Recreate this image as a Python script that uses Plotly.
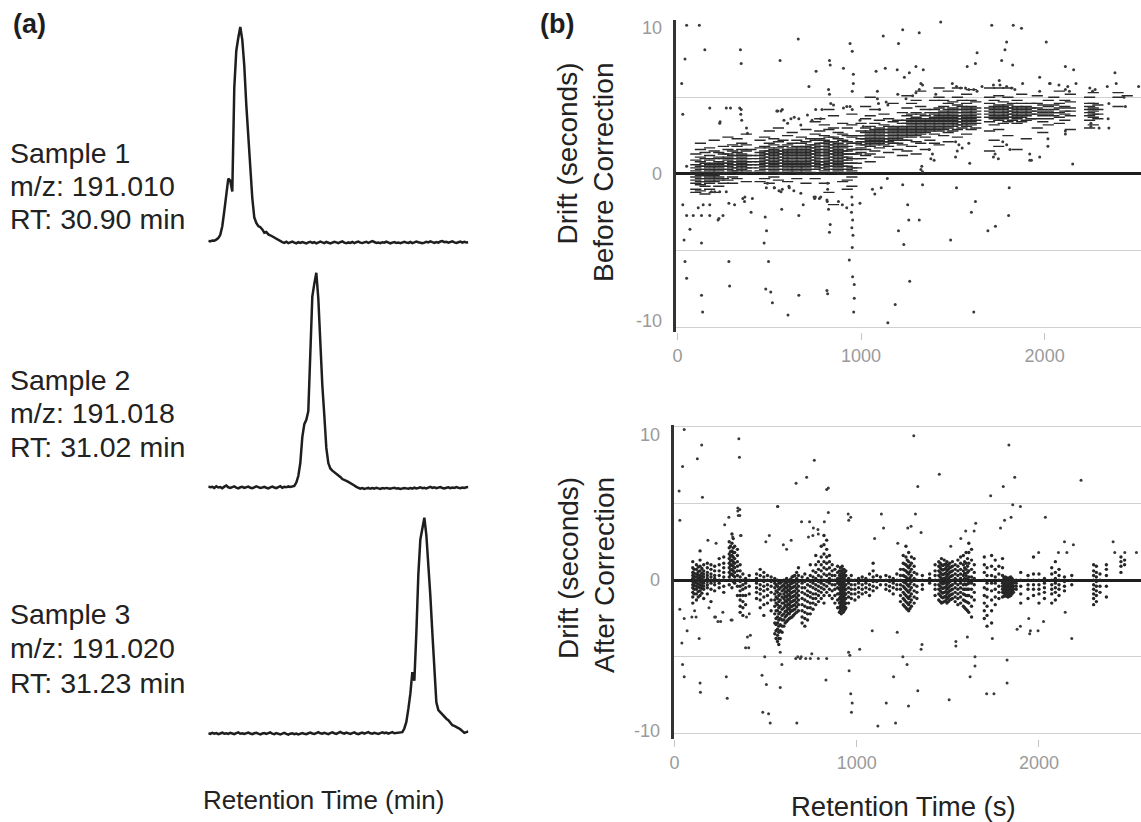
import plotly.graph_objects as go

# ---------------- Panel (a): chromatograms (relative intensity, % of peak) -------------
sample1_intensity = [1.2,1.0,1.4,1.3,1.8,2.5,4,8,15,24,30,29,24,72,89,95,100,94,82,64,49,35,21,12,9.5,8,7.5,6.5,5,5.3,4.2,3.8,3.2,2.6,2,1.5,1.1,
    0.6,0.3,0.8,0.2,0.5,0.9,0.4,0.1,0.6,0.3, 0.7,0.2,0.0,0.5,0.8,0.3,0.6,0.1,0.4,0.9,
    0.5,0.2,0.7,0.3,0.0,0.4,0.8,0.5,0.2,0.6, 1.0,0.4,0.1,0.5,0.3,0.7,0.2,0.6,0.9,0.4,
    0.2,0.5,0.8,0.3,0.6,1.1,0.7,0.3,0.5,0.2, 0.6,0.4,0.9,0.5,0.1,0.4,0.7,0.3,0.5,0.2,
    0.6,0.8,0.4,0.3,0.7,0.2,0.5,0.9,0.6,0.3, 0.1,0.4,0.8,0.5,1.0,0.6,0.3,0.7,0.4,0.9,
    1.1,0.6,0.8,0.4,0.7,1.0,0.5,0.3,0.6,0.9, 0.4,0.8,0.5,0.6]
sample2_intensity = [1.2,0.8,1.0,0.5,1.3,0.7,0.9,0.4,1.1,1.6, 0.8,0.5,0.9,1.2,0.6,0.3,0.8,1.0,0.5,0.7,
    1.1,0.6,0.4,0.8,1.2,0.9,0.5,0.7,1.0,0.6, 0.3,0.8,1.1,0.7,0.4,0.9,1.3,0.6,1.0,0.8, 1.2,1.0,1.1,
    1.4,3,6,12,24,30,32,36,64,89,95,100,88,66,48,34,19,12,9.5,8.5,7.8,7.3,6.5,5.6,4.6,4,3.8,3.3,2.6,2,1.6,1.0,
    0.6,0.2,0.4,0.0,0.3,0.5,0.1,0.4,0.2,0.6, 0.3,0.0,0.4,0.2,0.5,0.3,0.1,0.4,0.6,0.2,
    0.3,0.0,0.2,0.5,0.3,0.1,0.4,0.2,0.6,0.3, 0.5,0.8,0.4,0.6,0.3,0.7,1.0,0.5,0.8,0.4,
    0.7,0.9,0.5,0.3,0.6,0.8,0.4,0.7,0.5,0.9, 0.6,0.4,0.7,0.5,0.8,0.9]
sample3_intensity = [0.8,0.5,1.0,0.6,0.9,0.4,0.7,1.1,0.6,0.8, 0.5,1.0,0.7,0.4,0.9,1.2,0.6,0.8,0.5,0.9,
    1.1,0.7,0.4,0.8,1.0,0.6,0.3,0.7,0.9,0.5, 0.8,1.2,0.6,0.4,0.9,0.7,0.3,0.6,1.0,0.5,
    0.2,0.6,0.8,0.4,0.7,0.3,0.5,0.9,0.6,0.4, 0.8,1.1,0.7,0.5,0.9,1.3,0.8,0.6,1.0,0.7,
    0.4,0.9,1.2,0.8,0.5,1.0,1.4,0.9,0.6,1.1, 0.8,0.5,0.9,1.2,0.7,0.4,0.8,1.1,0.6,0.9,
    1.3,0.8,0.6,1.0,0.7,0.5,0.9,1.2,0.8,1.1, 0.6,0.9,1.3,0.8,1.0,1.2,1.1,
    1.3,3,6,12,19,29,25,47,74,90,95,100,92,79,64,47,29,15,11.5,10.5,9,8,7.5,6.8,5.5,4.5,4.2,3.8,3.2,2.6,2,1.0,1.3,1.6]

sample_lines = [
    ["Sample 1", "m/z: 191.010", "RT: 30.90 min"],
    ["Sample 2", "m/z: 191.018", "RT: 31.02 min"],
    ["Sample 3", "m/z: 191.020", "RT: 31.23 min"],
]

# ---------------- Panel (b): drift before correction (columns of points) -------------
before_col_x = [100,125,150,175,200,225,250,275,300,325,350,375,400,
    450,475,500,525,550,575,600,625,650,675,700,725,
    750,775,800,825,850,875,900,925,950,975,
    1000,1025,1050,1075,1100,1125,1150,1175,1200,1225,
    1250,1275,1300,1325,1350,1375,
    1400,1425,1450,1475,1500,1525,1550,1575,1600,1625,
    1700,1725,1750,1775,1800,1825,1850,1875,1900,1925,
    1960,1990,2020,2050,2080,2110,2140,2245,2265,2290,2400,2450]
before_col_y = [
    [-1.2,-1.0,-0.6,-0.4,-0.2,0.0,0.2,0.4,0.6,0.9,1.3],
    [-1.1,-0.7,-0.5,-0.3,-0.1,0.1,0.3,0.5,0.8,1.1,1.6,2.0],
    [-1.3,-0.8,-0.5,-0.3,-0.1,0.1,0.3,0.5,0.7,1.0,1.4],
    [-1.0,-0.6,-0.4,-0.2,0.0,0.2,0.4,0.6,0.9,1.2,1.7],
    [-1.2,-0.5,-0.3,-0.1,0.1,0.3,0.5,0.7,1.0,1.5,2.2],
    [-0.8,-0.4,-0.2,0.0,0.2,0.4,0.6,0.8,1.1,1.4],
    [-0.6,-0.3,0.0,0.3,0.5,0.7,1.0,1.3,1.8],
    [-0.4,0.1,0.3,0.5,0.7,0.9,1.1,1.3,1.6,2.4],
    [-0.6,-0.2,0.2,0.4,0.6,0.8,1.0,1.2,1.5,1.9],
    [-0.3,0.2,0.4,0.6,0.8,1.0,1.2,1.4,1.8,2.3],
    [0.0,0.3,0.5,0.7,0.9,1.1,1.3,1.6,2.0],
    [-0.5,0.2,0.4,0.6,0.8,1.0,1.2,1.5,1.9,2.6],
    [0.1,0.4,0.6,0.8,1.0,1.2,1.6],
    [-0.5,0.2,0.4,0.6,0.8,1.0,1.2,1.4,1.7,2.2],
    [-0.3,0.0,0.3,0.5,0.7,0.9,1.1,1.3,1.5,1.8,2.4],
    [-0.6,0.1,0.3,0.5,0.7,0.9,1.1,1.3,1.5,1.7,2.0,2.8],
    [-0.2,0.2,0.4,0.6,0.8,1.0,1.2,1.4,1.6,1.9,2.3],
    [-0.4,0.1,0.3,0.5,0.7,0.9,1.1,1.3,1.5,1.7,2.1,3.0],
    [0.0,0.3,0.5,0.7,0.9,1.1,1.3,1.5,1.8,2.2],
    [-0.5,0.2,0.4,0.6,0.8,1.0,1.2,1.4,1.6,1.9,2.5],
    [0.1,0.3,0.5,0.7,0.9,1.1,1.3,1.5,1.7,2.0,2.7],
    [-0.3,0.2,0.4,0.6,0.8,1.0,1.2,1.4,1.6,1.8,2.2],
    [0.0,0.3,0.5,0.7,0.9,1.1,1.3,1.5,1.7,2.0,2.4],
    [-0.6,0.2,0.4,0.6,0.8,1.0,1.2,1.4,1.6,1.8,2.1,2.9],
    [0.1,0.3,0.5,0.7,0.9,1.1,1.3,1.5,1.7,1.9,2.3],
    [-0.3,0.3,0.5,0.7,0.9,1.1,1.3,1.5,1.7,1.9,2.2,2.6,3.4],
    [0.0,0.4,0.6,0.8,1.0,1.2,1.4,1.6,1.8,2.0,2.3,2.8,3.6],
    [-0.6,0.2,0.4,0.6,0.8,1.0,1.2,1.4,1.6,1.8,2.0,2.2,2.5,3.2],
    [-1.2,0.3,0.5,0.7,0.9,1.1,1.3,1.5,1.7,1.9,2.1,2.4,2.9,4.2],
    [-2.0,0.1,0.3,0.5,0.7,0.9,1.1,1.3,1.5,1.7,1.9,2.1,2.4,3.0,3.8],
    [0.2,0.4,0.6,0.8,1.0,1.2,1.4,1.6,1.8,2.0,2.3,2.7],
    [-0.5,0.0,0.3,0.5,0.7,0.9,1.1,1.3,1.5,1.7,1.9,2.2,2.6,3.3],
    [-1.0,-0.4,0.1,0.3,0.5,0.7,0.9,1.1,1.3,1.5,1.8,2.1,2.5,3.0],
    [-0.8,-0.2,0.0,0.2,0.4,0.7,1.0,1.3,1.6,2.0,2.4,3.2,3.9],
    [0.4,0.7,1.0,1.3,1.6,2.0,2.5],
    [1.0,1.4,1.7,1.9,2.1,2.3,2.5,2.8,3.3],
    [1.2,1.6,1.9,2.1,2.3,2.5,2.7,3.0,3.6,4.4],
    [0.8,1.3,1.8,2.0,2.2,2.4,2.6,2.8,3.1,3.8,5.0],
    [1.5,1.9,2.1,2.3,2.5,2.7,2.9,3.3,4.2],
    [1.1,1.7,2.0,2.2,2.4,2.6,2.8,3.0,3.5],
    [1.9,2.1,2.3,2.5,2.7,2.9,3.2,3.9],
    [1.4,1.8,2.1,2.3,2.5,2.7,2.9,3.1,3.6],
    [2.0,2.2,2.4,2.6,2.8,3.0,3.4,4.6],
    [1.6,2.0,2.3,2.5,2.7,2.9,3.1,3.5],
    [1.2,1.9,2.2,2.4,2.6,2.8,3.0,3.3,4.0],
    [1.5,2.2,2.5,2.7,2.9,3.1,3.3,3.5,3.8,4.3,5.1],
    [1.8,2.4,2.6,2.8,3.0,3.2,3.4,3.6,3.9,4.6],
    [1.3,2.1,2.5,2.7,2.9,3.1,3.3,3.5,3.7,4.0,4.8],
    [2.0,2.6,2.8,3.0,3.2,3.4,3.6,3.9,4.4,5.4],
    [1.6,2.4,2.7,2.9,3.1,3.3,3.5,3.8,4.2],
    [2.2,2.8,3.0,3.2,3.4,3.6,4.0],
    [2.0,2.6,2.9,3.1,3.3,3.5,3.7,3.9,4.2,4.8],
    [1.9,2.8,3.0,3.2,3.4,3.6,3.8,4.0,4.3,5.0,5.6],
    [2.5,2.9,3.1,3.3,3.5,3.7,3.9,4.1,4.4,4.8],
    [2.1,2.7,3.0,3.2,3.4,3.6,3.8,4.0,4.2,4.6,5.4],
    [2.8,3.1,3.3,3.5,3.7,3.9,4.1,4.3,4.7],
    [2.4,2.9,3.2,3.4,3.6,3.8,4.0,4.2,4.5,5.0,5.6],
    [3.0,3.2,3.4,3.6,3.8,4.0,4.2,4.4,4.8],
    [2.6,3.1,3.3,3.5,3.7,3.9,4.1,4.3,4.6,5.2],
    [2.9,3.2,3.4,3.6,3.8,4.0,4.2,4.4,4.8,5.5],
    [3.0,3.3,3.5,3.7,3.9,4.1,4.3,4.7],
    [1.5,2.8,3.4,3.7,3.9,4.1,4.3,4.6,5.0,5.6],
    [2.2,3.2,3.6,3.8,4.0,4.2,4.4,4.8],
    [1.8,2.9,3.5,3.7,3.9,4.1,4.3,4.5,5.1,5.6],
    [3.3,3.6,3.8,4.0,4.2,4.4,4.7],
    [2.5,3.4,3.7,3.9,4.1,4.3,4.5,5.0,5.6],
    [3.5,3.7,3.9,4.1,4.3,4.6],
    [1.6,3.3,3.6,3.8,4.0,4.2,4.4,4.8],
    [3.4,3.7,3.9,4.1,4.3,4.6,5.2],
    [2.3,3.5,3.8,4.0,4.2,4.4],
    [3.6,3.9,4.1,4.3,4.6],
    [3.0,3.6,3.9,4.1,4.3,4.6,5.1],
    [2.7,3.4,3.8,4.0,4.2,4.5],
    [3.2,3.6,3.9,4.1,4.4,4.8],
    [3.8,4.0,4.2,4.5,5.0],
    [3.3,3.7,4.0,4.3,4.6,5.4],
    [3.5,3.9,4.1,4.4,4.8],
    [2.9,3.8,4.1,4.3,4.7,5.2],
    [3.0,3.5,3.8,4.0,4.2,4.4,4.6,5.0],
    [3.2,3.7,3.9,4.1,4.3,4.6,5.3],
    [3.6,3.9,4.2,4.5],
    [4.4,5.0,5.3],
    [5.1],
]
before_out = [(50,9.7),(41,7.5),(119,9.7),(149,8.1),(23,5.9),(29,3.9),(50,0.5),(29,-2.0),(50,-2.7),(36,-4.3),
    (41,-5.7),(50,-6.8),(131,-7.9),(137,-9.0),(131,-4.5),(68,-3.6),(176,4.3),(230,3.3),(266,4.3),(289,4.3),
    (343,8.1),(347,7.2),(347,4.2),(559,7.4),(658,8.8),(716,5.7),(755,6.7),(828,7.4),(832,7.1),(904,6.9),
    (940,8.5),(952,8.0),(958,6.5),(958,5.9),(952,5.4),(1121,9.0),(1204,8.5),(1227,9.4),(1317,9.2),(1082,6.7),
    (1132,6.9),(1197,6.8),(1236,6.3),(1263,6.6),(1299,7.0),(1339,6.8),(1434,9.9),(1623,7.2),(1632,7.9),(1578,7.0),
    (1712,9.7),(1766,7.4),(1784,8.1),(1793,8.6),(1829,9.7),(1874,9.5),(1826,7.1),(2009,8.6),(1973,6.3),(2113,7.0),
    (2158,6.8),(2383,6.6),(2512,5.7),(2030,5.9),(2153,0.65),(1919,0.9),(1973,1.1),(2018,1.8),
    (814,-1.7),(823,-2.3),(832,-3.3),(828,-3.8),(950,-1.5),(952,-2.0),(948,-2.5),(954,-3.0),(950,-3.5),(956,-4.0),
    (952,-4.8),(936,-5.6),(954,-6.7),(963,-7.2),(963,-8.1),(960,-9.0),(1146,-9.7),(1186,-8.5),(1265,-7.0),(1233,-4.6),
    (1204,-3.7),(1254,-2.0),(1260,-3.0),(1317,-3.0),(1335,-0.7),(1488,-4.3),(1520,-0.9),(1601,-2.5),(1623,-1.8),(1614,-9.0),
    (1691,-3.7),(1732,-3.4),(1804,-2.7),(1807,-0.9),(1062,-1.0),(1075,-1.3),(1143,-0.3),(1227,-0.7),(994,-1.9),(685,-2.0),
    (661,-2.7),(568,-2.3),(478,-2.8),(485,-3.7),(472,-4.5),(401,-2.5),(356,-1.6),(365,-1.8),(280,-1.9),(311,-2.0),
    (226,-2.9),(248,-2.7),(496,-5.7),(481,-7.5),(508,-7.7),(517,-8.4),(280,-5.7),(284,-7.3),(661,-7.9),(602,-9.2),
    (814,-7.6),(818,-7.8),(747,-1.6),(818,-0.6),(818,-1.0),(877,-1.8),(898,-2.0),(922,-2.2),(176,-2.0),(140,-2.0),
    (113,-2.2),(86,-2.7),(131,-2.7),(176,-2.7),(221,-3.0),(185,-1.15),(203,-1.15),(230,-1.15),(266,-1.15),(490,-0.6),
    (527,-0.9),(553,-1.1),(571,-1.0),(607,-0.8),(634,-1.1),(751,-1.5),(773,-1.6),(1110,-0.9),
    (367,-1.5),(408,-1.6),(484,-0.9),(528,-0.9),(564,-1.15),(609,-0.9),(672,-1.25),(744,-1.5),(780,-1.5),(816,-1.8),
    (339,4.3),(345,3.9),(350,3.5),(541,4.1),(571,4.2),(580,3.5),(661,3.6),(733,3.5),(787,4.2),(823,5.5),
    (828,5.2),(835,4.6),(850,4.5),(904,4.3),(922,4.4),(940,4.4),(952,4.2),(994,3.5),(1012,3.1),(1089,5.4),
    (1089,4.9),(1095,4.6),(1101,4.2),(1137,4.7),(1146,4.5),(1200,5.2),(1245,4.9),(1281,5.1),(1299,5.3),(1317,5.5),
    (1326,5.9),(1335,5.8),(1407,5.2),(1497,5.9),(1520,5.7),(1542,5.6),(1569,5.6),(1587,5.5),(1614,5.5),(1632,5.4),
    (1659,5.7),(1721,5.8),(1753,6.1),(1757,5.8),(1793,5.7),(1820,5.6),(1838,5.5),(1880,5.9),(1973,5.4),(2027,5.9),
    (2078,5.8),(2113,5.5),(2126,5.7),(2135,5.4),(2171,5.9),(2246,5.6),(2261,5.4),(2275,5.5),(2341,5.7),(2350,4.6),
    (2390,5.9),(2432,5.0),(2440,4.4),
    (232,3.4),(376,3.0),(381,2.65),(546,4.1),(564,4.1),(600,3.3),(618,3.6),(636,3.7),(672,3.2),(708,3.85),
    (753,4.2),(780,3.6),
    (1721,1.1),(1730,1.3),(1748,1.0),(1772,2.1),(1793,1.9),(1811,1.6),(1919,1.3),(1928,0.9),(2113,2.8),(2113,2.6),
    (2252,3.3),(2252,3.1),(2297,3.0),(2350,3.0),(2346,3.6),(2018,2.3),(1592,0.7),(1587,2.0),(1515,1.1),(1524,1.5),
    (1533,1.9),(1551,1.7),(1515,2.1),(1380,1.0),(1389,1.3),(1398,0.9),(1371,1.6),(1326,0.3),(1331,0.5),(1335,0.15)]

# ---------------- Panel (b): drift after correction -------------
after_col_x = [100,107,120,130,140,150,160,180,200,220,245,270,300,307,315,322,330,345,360,375,390,410,
    450,470,490,510,530,550,557,565,572,580,590,600,607,615,622,630,637,645,652,660,670,680,
    700,715,730,745,760,775,790,805,820,835,850,865,880,895,
    905,910,915,920,925,930,935,940,955,970,990,1010,1030,1050,1070,1090,1110,1130,1160,1180,1200,1220,
    1240,1255,1262,1270,1277,1285,1292,1300,1315,1330,
    1360,1400,1430,1450,1458,1465,1472,1480,1488,1495,1503,1510,1518,1525,1540,1555,1570,1585,1592,1600,1608,1615,1630,1645,
    1700,1715,1740,1760,1780,1800,1808,1815,1822,1830,1838,1845,1852,1860,1875,1900,1940,1970,2000,2030,2070,2090,2110,2140,2180,
    2300,2315,2335,2370,2450,2470]
after_col_y = [
    [-1.5,-1.1,-0.8,-0.5,-0.3,-0.1,0.1,0.3,0.5,0.8,1.2],
    [-0.9,-0.6,-0.35,-0.15,0.05,0.25,0.45,0.7],
    [-1.3,-0.9,-0.6,-0.4,-0.2,0.0,0.2,0.4,0.7,1.0],
    [-1.1,-0.75,-0.45,-0.25,-0.05,0.15,0.35,0.55,0.85],
    [-1.0,-0.7,-0.5,-0.3,-0.1,0.1,0.3,0.6,0.9,1.3,1.9],
    [-0.85,-0.55,-0.35,-0.15,0.05,0.25,0.45,0.75],
    [-1.2,-0.6,-0.4,-0.2,0.0,0.2,0.4,0.6,1.0],
    [-0.9,-0.5,-0.3,-0.1,0.1,0.3,0.5,0.8,1.1],
    [-1.4,-0.6,-0.2,0.0,0.2,0.4,0.7,1.0],
    [-0.7,-0.3,-0.1,0.1,0.3,0.6,0.9],
    [-0.5,-0.2,0.0,0.3,0.6,1.0,1.4],
    [-0.8,-0.4,0.0,0.2,0.5,0.8,1.1,1.5],
    [-0.3,0.2,0.5,0.8,1.1,1.4,1.7,2.1,2.5],
    [0.0,0.35,0.65,0.95,1.25,1.55,1.85,2.2],
    [-0.5,0.0,0.4,0.7,1.0,1.3,1.6,1.9,2.4,3.0],
    [-0.1,0.3,0.6,0.9,1.2,1.5,1.8,2.1,2.7],
    [-0.2,0.2,0.5,0.8,1.1,1.4,1.8,2.2],
    [-1.0,-0.4,0.0,0.3,0.6,0.9,1.2,1.6,2.0],
    [-2.1,-1.7,-1.3,-1.0,-0.7,-0.4,-0.1,0.2,0.6,1.0],
    [-2.3,-1.8,-1.4,-1.0,-0.6,-0.3,0.0,0.4],
    [-1.6,-1.0,-0.5,-0.2,0.1],
    [-0.9,-0.4,0.0,0.3],
    [-1.2,-0.8,-0.5,-0.2,0.1,0.4],
    [-1.8,-1.3,-0.9,-0.6,-0.3,0.0,0.3,0.7],
    [-2.3,-1.6,-1.1,-0.7,-0.4,-0.1,0.2,0.5],
    [-1.5,-1.0,-0.6,-0.3,0.0,0.3],
    [-2.0,-1.3,-0.8,-0.4,-0.1,0.2],
    [-3.5,-2.8,-2.2,-1.7,-1.3,-0.9,-0.5,-0.2,0.1],
    [-3.8,-3.3,-2.9,-2.5,-2.0,-1.5,-1.1,-0.7,-0.3],
    [-4.0,-3.6,-3.2,-2.8,-2.4,-2.0,-1.6,-1.2,-0.8,-0.4,0.0],
    [-4.2,-3.8,-3.4,-3.0,-2.6,-2.2,-1.8,-1.4,-1.0,-0.6,-0.2],
    [-3.8,-3.3,-2.9,-2.5,-2.1,-1.7,-1.3,-0.9,-0.5,-0.2],
    [-3.4,-3.0,-2.6,-2.3,-1.9,-1.5,-1.1,-0.7,-0.4,-0.1],
    [-3.0,-2.6,-2.2,-1.8,-1.5,-1.2,-0.9,-0.6,-0.3,0.0],
    [-2.8,-2.4,-2.05,-1.65,-1.35,-1.05,-0.75,-0.45,-0.15],
    [-2.7,-2.3,-2.0,-1.7,-1.4,-1.1,-0.8,-0.5,-0.2,0.1],
    [-2.6,-2.15,-1.85,-1.55,-1.25,-0.95,-0.65,-0.35,-0.05],
    [-2.5,-2.2,-1.9,-1.6,-1.3,-1.0,-0.7,-0.4,-0.1],
    [-2.45,-2.05,-1.75,-1.45,-1.15,-0.85,-0.55,-0.25,0.05],
    [-2.4,-2.0,-1.7,-1.4,-1.1,-0.8,-0.5,-0.2,0.2],
    [-2.3,-1.95,-1.65,-1.35,-1.05,-0.75,-0.45,-0.15,0.25],
    [-2.2,-1.9,-1.6,-1.3,-1.0,-0.7,-0.4,-0.1,0.3],
    [-2.1,-1.75,-1.45,-1.15,-0.85,-0.55,-0.25,0.1,0.5],
    [-2.0,-1.6,-1.3,-1.0,-0.7,-0.4,-0.1,0.3,0.8],
    [-2.8,-2.4,-2.0,-1.6,-1.2,-0.8,-0.5,-0.2,0.2],
    [-3.0,-2.5,-2.1,-1.7,-1.3,-0.9,-0.5,-0.1,0.4],
    [-2.6,-2.2,-1.8,-1.4,-1.0,-0.7,-0.3,0.1],
    [-2.2,-1.8,-1.5,-1.1,-0.8,-0.4,-0.1,0.3,1.0],
    [-1.9,-1.5,-1.2,-0.9,-0.5,-0.2,0.2,0.6],
    [-1.6,-1.2,-0.9,-0.6,-0.3,0.1,0.5,1.0,1.6],
    [-1.4,-1.0,-0.7,-0.4,-0.1,0.3,0.7,1.2],
    [-1.2,-0.8,-0.5,-0.2,0.2,0.6,1.0,1.5,2.2],
    [-1.5,-1.0,-0.6,-0.3,0.0,0.4,0.8,1.2,1.7,2.3,2.9],
    [-0.8,-0.4,-0.1,0.3,0.7,1.1,1.5,2.0,2.6],
    [-1.0,-0.6,-0.2,0.1,0.4,0.8,1.2,1.6],
    [-1.2,-0.7,-0.3,0.0,0.3,0.6,1.0],
    [-1.5,-1.0,-0.6,-0.3,0.0,0.3,0.7],
    [-1.8,-1.3,-0.9,-0.5,-0.2,0.1,0.5,0.9],
    [-2.1,-1.8,-1.5,-1.2,-0.9,-0.6,-0.3,0.0,0.3,0.6],
    [-2.0,-1.7,-1.4,-1.1,-0.8,-0.5,-0.2,0.1,0.4,0.8],
    [-2.2,-1.85,-1.55,-1.25,-0.95,-0.65,-0.35,-0.05,0.25,0.6],
    [-1.9,-1.6,-1.3,-1.0,-0.7,-0.4,-0.1,0.2,0.5,0.9],
    [-2.1,-1.75,-1.45,-1.15,-0.85,-0.55,-0.25,0.05,0.35,0.7],
    [-2.0,-1.7,-1.4,-1.1,-0.8,-0.5,-0.2,0.1,0.4,0.7],
    [-1.9,-1.55,-1.25,-0.95,-0.65,-0.35,-0.05,0.25,0.55],
    [-1.8,-1.5,-1.2,-0.9,-0.6,-0.3,0.0,0.3,0.6],
    [-1.5,-1.1,-0.8,-0.5,-0.2,0.1],
    [-1.2,-0.9,-0.6,-0.3,0.0,0.3],
    [-1.3,-0.9,-0.6,-0.3,0.0],
    [-1.1,-0.8,-0.5,-0.2,0.1],
    [-0.9,-0.6,-0.3,0.0,0.2],
    [-0.8,-0.5,-0.2,0.1],
    [-1.0,-0.6,-0.3,0.0,0.4],
    [-0.7,-0.4,-0.1,0.2,0.6,1.1],
    [-0.5,-0.1,0.3],
    [-0.3,0.0,0.2],
    [-0.6,-0.3,0.0,0.3],
    [-0.7,-0.4,-0.1,0.2],
    [-0.9,-0.5,-0.2,0.1],
    [-0.6,-0.3,0.0,0.4],
    [-1.4,-1.0,-0.6,-0.3,0.0,0.3,0.7],
    [-1.6,-1.2,-0.8,-0.4,-0.1,0.3,0.7,1.1,1.6],
    [-1.7,-1.3,-0.9,-0.5,-0.15,0.25,0.65,1.05],
    [-1.8,-1.4,-1.0,-0.6,-0.2,0.2,0.6,1.0,1.5,2.2],
    [-1.9,-1.5,-1.1,-0.7,-0.3,0.1,0.5,0.9,1.3],
    [-2.0,-1.6,-1.2,-0.8,-0.4,0.0,0.4,0.8,1.2,1.8],
    [-1.85,-1.45,-1.05,-0.65,-0.25,0.15,0.55,0.95],
    [-1.7,-1.3,-0.9,-0.5,-0.1,0.3,0.7,1.1,1.5],
    [-1.5,-1.1,-0.7,-0.3,0.1,0.5,0.9,1.4],
    [-1.2,-0.8,-0.4,0.0,0.4],
    [-0.6,-0.3,0.0,0.3],
    [-0.2,0.1,0.4],
    [-1.0,-0.6,-0.3,0.0,0.3,0.6,1.0],
    [-1.3,-0.9,-0.6,-0.3,0.0,0.3,0.6,0.9,1.2],
    [-1.4,-1.0,-0.7,-0.4,-0.1,0.2,0.5,0.8,1.1],
    [-1.5,-1.1,-0.8,-0.5,-0.2,0.1,0.4,0.7,1.0,1.4],
    [-1.45,-1.15,-0.85,-0.55,-0.25,0.05,0.35,0.65,0.95],
    [-1.4,-1.1,-0.8,-0.5,-0.2,0.1,0.4,0.7,1.0,1.3],
    [-1.35,-1.05,-0.75,-0.45,-0.15,0.15,0.45,0.75,1.05],
    [-1.5,-1.2,-0.9,-0.6,-0.3,0.0,0.3,0.6,0.9,1.2],
    [-1.4,-1.1,-0.8,-0.5,-0.2,0.1,0.4,0.7,1.0],
    [-1.3,-1.0,-0.7,-0.4,-0.1,0.2,0.5,0.8,1.1],
    [-1.25,-0.95,-0.65,-0.35,-0.05,0.25,0.55,0.85],
    [-1.2,-0.9,-0.6,-0.3,0.0,0.3,0.6,0.9,1.2],
    [-1.4,-1.1,-0.8,-0.5,-0.2,0.1,0.4,0.7,1.0],
    [-1.6,-1.2,-0.9,-0.6,-0.3,0.0,0.3,0.6,0.9,1.3],
    [-1.5,-1.1,-0.8,-0.5,-0.2,0.1,0.4,0.7,1.1,1.5],
    [-1.7,-1.3,-0.9,-0.6,-0.3,0.0,0.3,0.6,1.0,1.6],
    [-1.8,-1.35,-0.95,-0.6,-0.25,0.1,0.45,0.8,1.2],
    [-1.9,-1.4,-1.0,-0.6,-0.3,0.0,0.3,0.7,1.1,1.8],
    [-2.0,-1.45,-1.0,-0.6,-0.25,0.1,0.5,0.9,1.4],
    [-2.1,-1.5,-1.0,-0.6,-0.2,0.2,0.6,1.1,1.8,2.4],
    [-2.4,-1.7,-1.1,-0.6,-0.2,0.2,0.7,1.3,2.0],
    [-1.3,-0.8,-0.3,0.1,0.5,1.0],
    [-2.5,-2.0,-1.5,-1.0,-0.5,0.0,0.5,1.0,1.5],
    [-3.0,-2.3,-1.7,-1.1,-0.6,-0.2,0.3,0.8],
    [-2.8,-2.0,-1.3,-0.7,-0.2,0.3,0.9,1.6],
    [-1.6,-1.1,-0.6,-0.2,0.2,0.7,1.3],
    [-1.2,-0.8,-0.4,0.0,0.4,0.9],
    [-1.1,-0.8,-0.6,-0.4,-0.2,0.0,0.3,0.8,1.4],
    [-1.05,-0.85,-0.65,-0.45,-0.25,-0.05,0.15],
    [-1.0,-0.8,-0.6,-0.4,-0.2,0.0,0.2],
    [-1.05,-0.85,-0.65,-0.45,-0.25,-0.05,0.15],
    [-1.1,-0.9,-0.7,-0.5,-0.3,-0.1,0.1],
    [-1.05,-0.85,-0.65,-0.45,-0.25,-0.05,0.15],
    [-1.0,-0.8,-0.6,-0.4,-0.2,0.0,0.2],
    [-0.9,-0.7,-0.5,-0.3,-0.1,0.1],
    [-0.8,-0.6,-0.4,-0.2,0.0],
    [-0.6,-0.4,-0.2,0.0],
    [-1.5,-0.9,-0.4,0.0,0.5],
    [-1.2,-0.6,-0.3,0.0,0.3],
    [-1.0,-0.6,-0.3,0.0,0.4,1.5],
    [-1.5,-0.9,-0.6,-0.3,0.0,0.4],
    [-1.2,-0.8,-0.5,-0.2,0.1],
    [-1.5,-0.9,-0.6,-0.3,0.0,0.4,0.8],
    [-1.3,-0.8,-0.5,-0.2,0.1,0.5,1.2],
    [-1.0,-0.6,-0.3,0.0,0.3,0.7],
    [-0.7,-0.4,-0.1,0.2],
    [-0.3,0.0,0.3],
    [-1.6,-1.2,-0.9,-0.6,-0.3,0.0,0.3,0.6,1.0],
    [-1.4,-1.0,-0.7,-0.4,-0.1,0.2,0.5,0.9],
    [-0.8,-0.4,0.0,0.4],
    [-1.1,-0.4,0.3,0.7,1.0],
    [0.5,0.9,1.2,1.5],
    [1.0,1.3],
]
after_out = [(53,9.8),(44,7.4),(25,5.8),(29,3.9),(125,7.9),(149,8.8),(153,5.4),(353,9.2),(356,8.0),(767,7.8),
    (667,6.3),(725,6.7),(835,5.9),(844,6.0),(1313,9.4),(1335,6.1),(1453,6.9),(1735,5.5),(1804,6.1),(1835,8.8),
    (1867,6.7),(1898,4.8),(2231,6.5),
    (29,-1.9),(40,-4.1),(44,-5.5),(53,-6.3),(53,-2.5),(95,-2.4),(69,-3.3),(135,-3.8),(140,-6.7),(142,-7.3),
    (189,-1.8),(225,-2.4),(253,-2.7),(284,-6.3),(289,-7.7),(316,-2.6),(407,-4.4),(416,-3.6),(480,-6.2),(495,-5.0),
    (504,-6.8),(484,-8.6),(516,-8.7),(525,-9.3),(580,-7.0),(589,-5.5),(580,-4.7),(671,-9.3),(676,-5.0),(695,-5.0),
    (753,-4.8),(789,-5.1),(835,-5.1),(831,-6.5),(955,-4.7),(958,-5.9),(967,-7.4),(975,-8.0),(971,-8.6),(962,-4.9),
    (1016,-4.5),(1085,-3.3),(1162,-8.0),(1116,-9.5),(1213,-9.3),(1202,-6.3),(1222,-3.4),(1253,-5.0),(1276,-5.5),(1284,-8.2),
    (1335,-7.2),(1353,-4.5),(1358,-4.2),(1507,-7.8),(1544,-4.3),(1544,-4.0),(1607,-3.7),(1622,-6.3),(1649,-5.0),(1649,-5.6),
    (1713,-7.4),(1753,-7.4),(1744,-3.8),(1825,-5.2),(1825,-6.7),(2180,-3.8),(1880,-3.2),(1898,-3.0),(1953,-3.3),(1995,-3.3),
    (2025,-2.7),(2144,-2.1),(1944,-2.5),(1949,-3.5),
    (298,4.1),(275,3.6),(358,4.6),(358,4.2),(362,2.9),(567,4.8),(735,2.8),(762,3.4),(789,3.0),(822,3.8),
    (844,4.4),(953,4.3),(967,4.1),(956,3.9),(1098,2.7),(1135,4.3),(1147,3.4),(1225,2.4),(1280,3.4),(1298,3.5),
    (1322,4.3),(1353,3.1),(1516,2.2),(1571,2.7),(1598,3.2),(1644,3.2),(1653,3.7),(1789,3.4),(1811,3.9),(1847,4.1),
    (1856,4.9),(2035,4.1),(2140,2.5),(2189,2.3),(2407,2.5),(2535,1.8),(2416,1.8),(2471,1.8),(1998,1.8),(2107,1.8),(2153,1.8),
    (183,2.6),(228,2.4),(319,2.8),(365,2.9),(347,4.7),(347,4.5),(350,4.2),(501,2.5),(520,2.9),(565,4.8),
    (597,2.3),(615,2.0),(640,2.6),(697,3.8),(741,3.8),(759,2.9),(787,3.3),
    (110,-2.0),(118,-2.4),(220,-2.4),(238,-2.7),(265,-2.1),(310,-2.6),(395,-2.4),(410,-2.2),(400,-3.7),(390,-4.4),
    (665,-5.1),(690,-5.1),(720,-5.1),(745,-5.1)]

x_ticks = [0, 1000, 2000]
y_tick_labels = ["10", "0", "-10"]

# ---------------- build figure -------------
W, H = 1141, 822
def py(p):  # pixel row -> paper fraction
    return 1 - p / H
def px(p):
    return p / W

fig = go.Figure()
FONT = "Liberation Sans, Arial, sans-serif"
INK = "#1e1e1e"

for k, ys in enumerate([sample1_intensity, sample2_intensity, sample3_intensity]):
    fig.add_trace(go.Scatter(x=list(range(len(ys))), y=ys, mode="lines",
                             line=dict(color=INK, width=2.5), xaxis=f"x{k+3}", yaxis=f"y{k+3}",
                             hoverinfo="skip", showlegend=False))

def flatten(cx, cy):
    xs, ys = [], []
    for x, col in zip(cx, cy):
        for v in col:
            xs.append(x); ys.append(v)
    return xs, ys

bx, byv = flatten(before_col_x, before_col_y)
fig.add_trace(go.Scatter(x=bx, y=byv, mode="markers", xaxis="x", yaxis="y", showlegend=False,
                         marker=dict(symbol="line-ew", size=8, line=dict(color="#2a2a2a", width=1.4))))
fig.add_trace(go.Scatter(x=[p[0] for p in before_out], y=[p[1] for p in before_out], mode="markers",
                         xaxis="x", yaxis="y", showlegend=False,
                         marker=dict(size=3, color="#3a3a3a")))
ax_, ay_ = flatten(after_col_x, after_col_y)
fig.add_trace(go.Scatter(x=ax_, y=ay_, mode="markers", xaxis="x2", yaxis="y2", showlegend=False,
                         marker=dict(size=3.4, color="#262626")))
fig.add_trace(go.Scatter(x=[p[0] for p in after_out], y=[p[1] for p in after_out], mode="markers",
                         xaxis="x2", yaxis="y2", showlegend=False,
                         marker=dict(size=3, color="#3a3a3a")))

def xax(domain, rng, anchor):
    return dict(domain=domain, range=rng, anchor=anchor, showgrid=False, zeroline=False, showline=False,
                tickvals=x_ticks, ticktext=[str(v) for v in x_ticks], ticks="outside", ticklen=7,
                tickcolor="#c4c4c4", tickwidth=1.2, tickfont=dict(family=FONT, size=18, color="#9a9a9a"))
def yax(domain, rng, anchor):
    return dict(domain=domain, range=rng, anchor=anchor, tickvals=[-10, -5, 0, 5, 10], showticklabels=False,
                showgrid=True, gridcolor="#d0d0d0", gridwidth=1, zeroline=True, zerolinecolor=INK,
                zerolinewidth=2.6, showline=True, linecolor="#333333", linewidth=2.6, ticks="")

fig.update_layout(
    width=W, height=H, margin=dict(l=0, r=0, t=0, b=0),
    paper_bgcolor="white", plot_bgcolor="white", showlegend=False,
    xaxis=xax([px(674), 1.0], [-10, 2525], "y"),
    yaxis=yax([py(332), py(19.8)], [-10.3, 10.05], "x"),
    xaxis2=xax([px(672), 1.0], [-5, 2560], "y2"),
    yaxis2=yax([py(739), py(425)], [-10.35, 10.1], "x2"),
)
chrom_domains = [(250, 20, -3.0, 103.2), (495, 265, -2.77, 103.6), (741, 511, -2.76, 103.1)]
for k, (b, t, lo, hi) in enumerate(chrom_domains):
    fig.update_layout(**{
        f"xaxis{k+3}": dict(domain=[px(205), px(466)], range=[0, 130], visible=False, anchor=f"y{k+3}"),
        f"yaxis{k+3}": dict(domain=[py(b), py(t)], range=[lo, hi], visible=False, anchor=f"x{k+3}"),
    })

ann = []
def text(x, y, s, size, xanchor="left", color=INK, angle=0, bold=False, align="center"):
    ann.append(dict(x=px(x), y=py(y), xref="paper", yref="paper", text=(f"<b>{s}</b>" if bold else s),
                    showarrow=False, xanchor=xanchor, yanchor="middle", textangle=angle, align=align,
                    font=dict(family=FONT, size=size, color=color)))

text(7, 24, "(a)", 27, bold=True)
text(536, 24, "(b)", 27, bold=True)
sample_y = [(153, 186, 219), (380, 413, 447), (614, 648, 683)]
for lines, ys in zip(sample_lines, sample_y):
    for s, yy in zip(lines, ys):
        text(4, yy, s, 28.5, color="#222222")
text(321, 800, "Retention Time (min)", 26, xanchor="center", color="#222222")
text(903, 806, "Retention Time (s)", 27.5, xanchor="center", color="#222222")
text(584, 172, "Drift (seconds)<br>Before Correction", 28, xanchor="center", color="#222222", angle=-90, align="right")
text(584, 575, "Drift (seconds)<br>After Correction", 28, xanchor="center", color="#222222", angle=-90, align="right")
for lab, yy in zip(y_tick_labels, (28, 174, 321)):
    text(662, yy, lab, 18, xanchor="right", color="#9a9a9a")
for lab, yy in zip(y_tick_labels, (435, 580, 731)):
    text(660, yy, lab, 18, xanchor="right", color="#9a9a9a")
fig.update_layout(annotations=ann)

fig.write_html("out.html")
